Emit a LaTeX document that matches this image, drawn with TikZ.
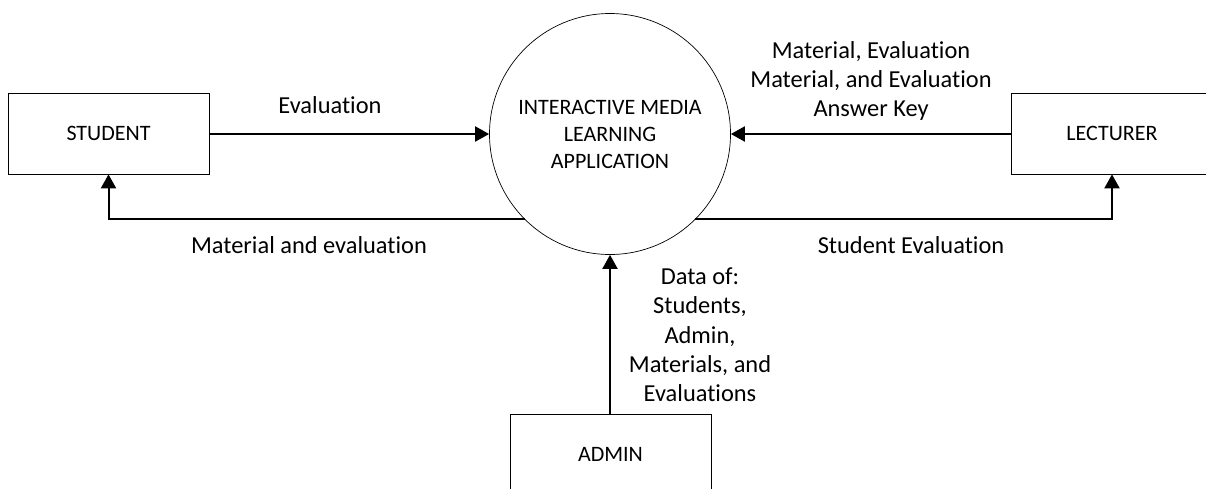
\documentclass[tikz,border=0pt]{standalone}
\usepackage{fontspec}
\setmainfont[Ligatures=NoCommon]{Carlito}
\usetikzlibrary{arrows.meta}
\tikzset{
 ent/.style={draw,line width=0.7pt,font=\fontsize{22}{27}\selectfont,inner sep=0},
 flow/.style={line width=2pt,-{Triangle[length=14pt,width=15pt]}},
 lbl/.style={font=\fontsize{24.4}{29.3}\selectfont,align=center,inner sep=0}
}
\begin{document}
\begin{tikzpicture}[x=1pt,y=-1pt]
\useasboundingbox (0,0) rectangle (1206,488);
\node[ent,minimum width=201pt,minimum height=81pt] (s) at (108.5,133.5) {STUDENT};
\node[ent,minimum width=202pt,minimum height=81pt] (l) at (1112,133.5) {LECTURER};
\node[ent,minimum width=201pt,minimum height=80pt] (a) at (610.5,454) {ADMIN};
\node[draw,circle,line width=0.7pt,minimum size=241pt,inner sep=0,align=center,font=\fontsize{22}{27}\selectfont] (c) at (610,134) {INTERACTIVE MEDIA\\LEARNING\\APPLICATION};
\coordinate (cl) at (525,219);
\coordinate (cr) at (695,219);
\draw[flow] (s.east |- 0,134) -- (c.west |- 0,134);
\draw[flow] (l.west |- 0,134) -- (c.east |- 0,134);
\draw[flow] (cl) -- (cl -| s.south) -- (s.south);
\draw[flow] (cr) -- (cr -| l.south) -- (l.south);
\draw[flow] (a.north -| c.south) -- (c.south);
\node[lbl] (t1) at (330,105) {Evaluation};
\node[lbl] (t2) at (309,245) {Material and evaluation};
\node[lbl] (t3) at (871,81) {Material, Evaluation\\Material, and Evaluation\\Answer Key};
\node[lbl] (t4) at (911,245) {Student Evaluation};
\node[lbl] (t5) at (700,335) {Data of:\\Students,\\Admin,\\Materials, and\\Evaluations};
\end{tikzpicture}
\end{document}
